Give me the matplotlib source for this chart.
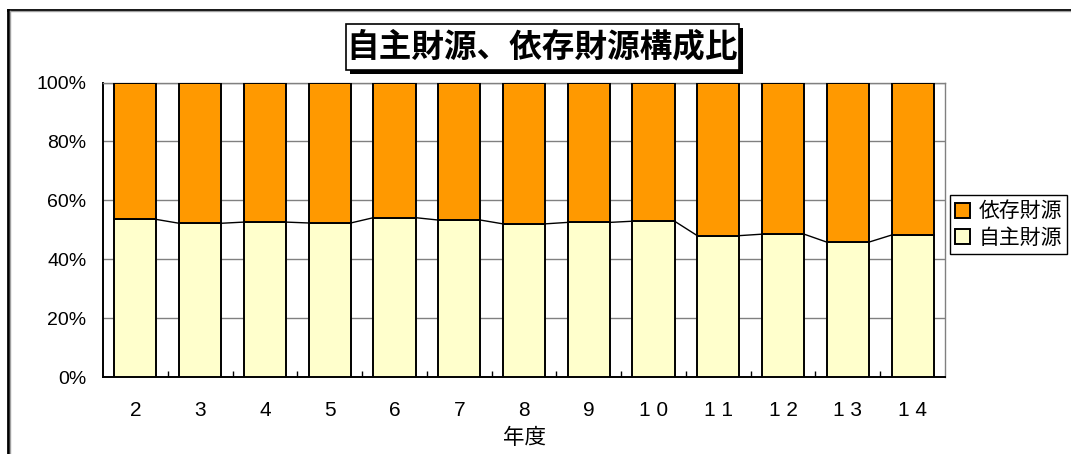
import matplotlib
matplotlib.use("Agg")
import matplotlib.pyplot as plt
from matplotlib.patches import Rectangle
from matplotlib.lines import Line2D
from matplotlib.ticker import FixedLocator, NullFormatter

# Fiscal years (Heisei) and share of self-funded revenue (%)
years = ["2", "3", "4", "5", "6", "7", "8", "9", "1 0", "1 1", "1 2", "1 3", "1 4"]
own_revenue = [53.5, 52.2, 52.6, 52.3, 54.1, 53.3, 52.0, 52.5, 52.9, 48.0, 48.5, 45.8, 48.2]
dependent_revenue = [100 - v for v in own_revenue]
series_labels = ["依存財源", "自主財源"]
y_ticks = [0, 20, 40, 60, 80, 100]
y_tick_labels = ["0%", "20%", "40%", "60%", "80%", "100%"]

JP = ["Noto Sans CJK JP", "DejaVu Sans"]
LATIN = ["Liberation Sans", "DejaVu Sans"]

fig = plt.figure(figsize=(10.71, 4.54), dpi=100)
W, H = 1071, 454

def fx(px):
    return px / W

def fy(py):
    return 1 - py / H

ax = fig.add_axes([fx(103), fy(377), fx(945) - fx(103), fy(82.5) - fy(377)])

x = list(range(len(years)))
bw = 0.65
b_own = ax.bar(x, own_revenue, width=bw, color="#FFFFCC", edgecolor="black",
               linewidth=1.4, zorder=3)
b_dep = ax.bar(x, dependent_revenue, width=bw, bottom=own_revenue, color="#FF9900",
               edgecolor="black", linewidth=1.4, zorder=3)

# Series lines joining the top of the lower segment between neighbouring bars
for i in range(len(x) - 1):
    ax.plot([x[i] + bw / 2, x[i + 1] - bw / 2], [own_revenue[i], own_revenue[i + 1]],
            color="black", linewidth=1.0, zorder=2)

ax.set_xlim(-0.5, len(x) - 0.5)
ax.set_ylim(0, 100)

ax.set_yticks(y_ticks)
ax.set_yticklabels(y_tick_labels, family=LATIN, fontsize=14)
ax.tick_params(axis="y", length=0, pad=12)
ax.yaxis.grid(True, color="#808080", linewidth=1.0, zorder=1)
ax.set_axisbelow(True)

ax.set_xticks(x)
ax.set_xticklabels(years, family=LATIN, fontsize=15)
ax.tick_params(axis="x", which="major", length=0, pad=17)
ax.xaxis.set_minor_locator(FixedLocator([i + 0.5 for i in x[:-1]]))
ax.xaxis.set_minor_formatter(NullFormatter())
ax.tick_params(axis="x", which="minor", direction="in", length=4.5, width=1, color="black")

for side in ("top", "right"):
    ax.spines[side].set_color("#808080")
    ax.spines[side].set_linewidth(1.0)
for side in ("left", "bottom"):
    ax.spines[side].set_color("black")
    ax.spines[side].set_linewidth(1.4)

ax.set_xlabel("年度", family=JP, fontsize=15.5, labelpad=5)

# Outer chart border (top and left edges)
fig.add_artist(Line2D([fx(7.5), 1.0], [fy(9.5), fy(9.5)], color="black", linewidth=2))
fig.add_artist(Line2D([fx(7.5), fx(7.5)], [fy(9.5), 0.0], color="black", linewidth=2))
fig.add_artist(Line2D([fx(9.5), 1.0], [fy(11), fy(11)], color="#A0A0A0", linewidth=1))
fig.add_artist(Line2D([fx(9.5), fx(9.5)], [fy(11), 0.0], color="#A0A0A0", linewidth=1))

# Title box with drop shadow
bx0, bx1, by0, by1 = 346, 739, 24, 70
fig.add_artist(Rectangle((fx(bx0 + 4), fy(by1 + 4)), fx(bx1 - bx0), fy(by0) - fy(by1),
                         facecolor="black", edgecolor="none"))
fig.add_artist(Rectangle((fx(bx0), fy(by1)), fx(bx1 - bx0), fy(by0) - fy(by1),
                         facecolor="white", edgecolor="black", linewidth=1.2))
fig.text(fx((bx0 + bx1) / 2), fy(47), "自主財源、依存財源構成比", family=JP,
         fontsize=23.5, fontweight="bold", ha="center", va="center")

leg = ax.legend([b_dep, b_own], series_labels, loc="center left",
                bbox_to_anchor=(fx(950), fy(224.5)), bbox_transform=fig.transFigure,
                prop={"family": JP, "size": 15}, frameon=True, fancybox=False,
                edgecolor="black", framealpha=1, handlelength=0.72, handleheight=0.72,
                handletextpad=0.4, borderpad=0.25, labelspacing=0.2, borderaxespad=0)
leg.get_frame().set_linewidth(1.0)

fig.savefig("out.png", dpi=100)
